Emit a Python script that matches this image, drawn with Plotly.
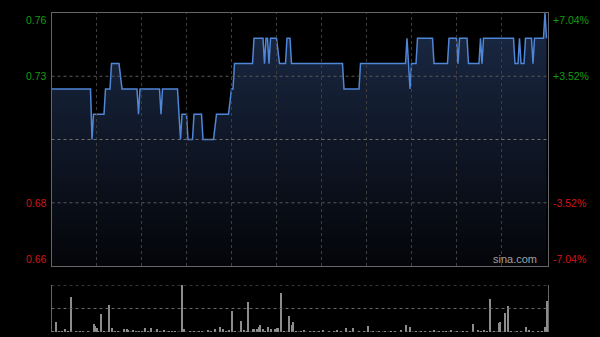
import plotly.graph_objects as go

# ---- data (minutes since open, HK session 330 min) ----
price_t = [0, 26, 27, 28, 35, 36, 39, 40, 45, 47, 57, 58, 59, 72, 73, 74, 84, 86, 87, 90,
           91, 94, 95, 100, 101, 108, 110, 118, 120, 121, 122, 134, 135, 141, 142, 143, 144, 145, 146, 150,
           152, 156, 157, 159, 160, 194, 195, 205, 206, 236, 237, 239, 240, 243, 244, 254, 255, 264, 265, 270,
           271, 272, 277, 278, 285, 286, 287, 288, 308, 309, 311, 312, 313, 315, 316, 320, 321, 322, 328, 329,
           330]
price_v = [0.73, 0.73, 0.71, 0.72, 0.72, 0.73, 0.73, 0.74, 0.74, 0.73, 0.73, 0.72, 0.73, 0.73, 0.72, 0.73, 0.73, 0.71, 0.72, 0.72,
           0.71, 0.71, 0.72, 0.72, 0.71, 0.71, 0.72, 0.72, 0.73, 0.73, 0.74, 0.74, 0.75, 0.75, 0.74, 0.75, 0.75, 0.74, 0.75, 0.75,
           0.74, 0.74, 0.75, 0.75, 0.74, 0.74, 0.73, 0.73, 0.74, 0.74, 0.75, 0.73, 0.74, 0.74, 0.75, 0.75, 0.74, 0.74, 0.75, 0.75,
           0.74, 0.75, 0.75, 0.74, 0.74, 0.75, 0.74, 0.75, 0.75, 0.74, 0.74, 0.75, 0.74, 0.74, 0.75, 0.75, 0.74, 0.75, 0.75, 0.76,
           0.75]

vol_t = [3, 9, 13, 28, 29, 30, 33, 38, 40, 48, 50, 51, 54, 62, 66, 70, 75, 87, 88, 104,
         109, 112, 114, 118, 120, 126, 128, 131, 134, 135, 137, 138, 139, 141, 144, 146, 149, 150, 151, 153,
         158, 160, 161, 168, 181, 190, 196, 201, 211, 233, 236, 239, 255, 266, 281, 284, 288, 292, 298, 299,
         302, 304, 316, 318, 329, 330,
         1, 5, 7, 11, 16, 19, 21, 24, 31, 35, 42, 44, 56, 58, 60, 64, 72, 78, 80, 82,
         92, 95, 98, 100, 106, 116, 122, 130, 142, 155, 163, 166, 172, 175, 178, 185, 188, 193, 199, 205,
         208, 214, 218, 222, 226, 229, 243, 246, 249, 252, 258, 261, 263, 270, 274, 277, 286, 290, 295, 306,
         310, 313, 321, 324, 327]
vol_v = [21, 7, 75, 17, 13, 9, 38, 58, 9, 7, 7, 4, 4, 9, 9, 7, 4, 100, 7, 5,
         7, 11, 7, 5, 45, 24, 5, 63, 6, 6, 6, 11, 14, 6, 11, 6, 6, 9, 9, 84,
         34, 14, 22, 4, 5, 4, 9, 9, 13, 4, 14, 11, 4, 3, 17, 4, 4, 70, 20, 22,
         40, 56, 11, 4, 11, 65,
         2, 2, 1, 2, 1, 2, 1, 2, 2, 1, 2, 1, 2, 1, 2, 2, 1, 2, 1, 2,
         2, 1, 2, 2, 1, 2, 2, 1, 2, 1, 2, 1, 2, 1, 2, 2, 1, 2, 1, 2,
         2, 1, 2, 1, 2, 2, 1, 2, 1, 2, 2, 1, 2, 2, 1, 2, 2, 1, 2, 1,
         2, 1, 2, 1, 2]

prev_close = 0.71
price_range = [0.66, 0.76]
price_grid = [0.685, 0.735]
time_grid = [30, 60, 90, 120, 150, 180, 210, 240, 270, 300]
vol_grid = [0, 50, 100]
left_tick_vals = [0.76, 0.735, 0.685, 0.66]
left_tick_text = ["0.76", "0.73", "0.68", "0.66"]
right_tick_text = ["+7.04%", "+3.52%", "-3.52%", "-7.04%"]

GREEN = "#139c13"
RED = "#d01515"
tick_colors = [GREEN, GREEN, RED, RED]
tick_anchor = ["top", "middle", "middle", "bottom"]

FONT = "Liberation Sans, Arial, sans-serif"

fig = go.Figure()
fig.add_trace(go.Scatter(
    x=price_t, y=price_v, mode="lines",
    line=dict(color="#4f86d8", width=1.5),
    fill="tozeroy",
    fillgradient=dict(type="vertical",
                      colorscale=[[0, "rgb(4,5,9)"], [1, "rgb(27,42,70)"]],
                      start=0.66, stop=0.76),
    xaxis="x", yaxis="y", hoverinfo="skip"))

fig.add_trace(go.Bar(
    x=vol_t, y=vol_v, marker_color="#8c8c8c", marker_line_width=0, width=0.7,
    xaxis="x2", yaxis="y2", hoverinfo="skip"))

xdom = [51.5 / 600, 548 / 600]
fig.update_layout(
    width=600, height=337, margin=dict(l=0, r=0, t=0, b=0),
    paper_bgcolor="black", plot_bgcolor="black", showlegend=False,
    bargap=0,
    xaxis=dict(domain=xdom, range=[0, 331], showticklabels=False, showgrid=False,
               showline=True, mirror=True, linecolor="#666666", linewidth=1,
               zeroline=False, ticks=""),
    yaxis=dict(domain=[(337 - 266) / 337, (337 - 13) / 337], range=price_range,
               showticklabels=False, showgrid=False,
               showline=True, mirror=True, linecolor="#666666", linewidth=1,
               zeroline=False, ticks=""),
    xaxis2=dict(domain=xdom, range=[0, 331], showticklabels=False, showgrid=False,
                showline=False, zeroline=False, ticks="", anchor="y2"),
    yaxis2=dict(domain=[(337 - 332) / 337, (337 - 285) / 337], range=[0, 100],
                showticklabels=False, showgrid=False,
                showline=True, mirror=True, linecolor="#666666", linewidth=1,
                zeroline=False, ticks="", anchor="x2"),
)

# grid lines drawn above the area fill (as in the reference)
for tg in time_grid:
    fig.add_shape(type="line", layer="above", xref="x", x0=tg, x1=tg, yref="y domain", y0=0, y1=1,
                  line=dict(color="#3e3e3e", width=1, dash="dot"))
for pg in price_grid:
    fig.add_shape(type="line", layer="above", xref="x domain", x0=0, x1=1, yref="y", y0=pg, y1=pg,
                  line=dict(color="#5a5a5a", width=1, dash="dot"))
fig.add_shape(type="line", layer="above", xref="x domain", x0=0, x1=1, yref="y", y0=prev_close, y1=prev_close,
              line=dict(color="#6e6e6e", width=1, dash="dot"))
for vg in vol_grid:
    fig.add_shape(type="line", layer="above", xref="x2 domain", x0=0, x1=1, yref="y2", y0=vg, y1=vg,
                  line=dict(color="#6a6a6a", width=1, dash="dot"))

for v, lt, rt, c, a in zip(left_tick_vals, left_tick_text, right_tick_text, tick_colors, tick_anchor):
    fig.add_annotation(xref="paper", x=48 / 600, xanchor="right", yref="y", y=v, yanchor=a,
                       text=lt, showarrow=False, font=dict(family=FONT, size=10.5, color=c),
                       borderpad=0)
    fig.add_annotation(xref="paper", x=552 / 600, xanchor="left", yref="y", y=v, yanchor=a,
                       text=rt, showarrow=False, font=dict(family=FONT, size=10.5, color=c),
                       borderpad=0)

fig.add_annotation(xref="paper", x=538 / 600, xanchor="right", yref="y domain", y=0, yanchor="bottom",
                   text="sina.com", showarrow=False, font=dict(family=FONT, size=11, color="#a0a0a0"),
                   borderpad=0)

fig.write_html("out.html")
